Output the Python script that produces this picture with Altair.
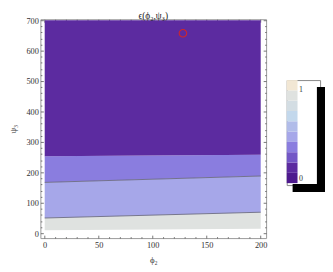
import altair as alt
import pandas as pd

# ---- data ----
x_edges = [0, 200]
lower_edge = [10, 15]
contour_1 = [50, 69]
contour_2 = [167, 188]
contour_3 = [253, 258]
upper_edge = [700, 700]
band_levels = [0.85, 0.45, 0.35, 0.15]
legend_colors = ["#4e1a8e", "#5c2ba0", "#7357c6", "#8a7ddf", "#a6a7e9",
                 "#b1bce9", "#c3d8ec", "#d3dde3", "#dfe2e0", "#f2e7d4"]
marker_x = [128]
marker_y = [657]

x_major = [0, 50, 100, 150, 200]
x_minor = [10, 20, 30, 40, 60, 70, 80, 90, 110, 120, 130, 140, 160, 170, 180, 190]
y_major = [0, 100, 200, 300, 400, 500, 600, 700]
y_minor = [20, 40, 60, 80, 120, 140, 160, 180, 220, 240, 260, 280, 320, 340, 360, 380,
           420, 440, 460, 480, 520, 540, 560, 580, 620, 640, 660, 680]

SERIF = "Liberation Serif"

bounds = [lower_edge, contour_1, contour_2, contour_3, upper_edge]
rows = []
for i, lvl in enumerate(band_levels):
    for j, xv in enumerate(x_edges):
        rows.append({"x": xv, "lo": bounds[i][j], "hi": bounds[i + 1][j],
                     "level": lvl, "band": i, "shadow": "s"})
bands = pd.DataFrame(rows)
line1 = pd.DataFrame({"x": x_edges, "y": contour_1})
line2 = pd.DataFrame({"x": x_edges, "y": contour_2})
marker = pd.DataFrame({"x": marker_x, "y": marker_y})

xs = alt.Scale(domain=[-4, 205], nice=False, zero=False)
ys = alt.Scale(domain=[-16, 703], nice=False, zero=False)


def axis(orient, values, size, labels=False, title=None, pad=2, tpad=4):
    return alt.Axis(orient=orient, values=values, tickSize=size, offset=-size,
                    domain=False, grid=False, tickColor="#555", tickWidth=0.8,
                    labels=labels, title=title, labelFont=SERIF, labelFontSize=8.5,
                    labelColor="#333", labelPadding=pad, titleFont=SERIF,
                    titleFontSize=9, titleFontWeight="normal", titleColor="#333",
                    titlePadding=tpad, labelFlush=False, labelOverlap=False)


main_legend = alt.Legend(
    type="gradient", orient="none", legendX=251, legendY=62, direction="vertical",
    title="M" * 18, titleFontSize=2, titleOpacity=0, titleOrient="bottom", titlePadding=0,
    titleFont=SERIF,
    gradientLength=105, gradientThickness=11, gradientStrokeWidth=0,
    labelFont=SERIF, labelFontSize=8, labelColor="#333", labelOffset=1.5,
    labelOverlap=False,
    labelExpr="datum.value < 0.05 ? '0' : datum.value > 0.85 ? '1' : ''",
    labelBaseline={"expr": "datum.value > 0.85 ? 'bottom' : datum.value < 0.05 ? 'bottom' : 'middle'"},
    padding=0, strokeColor="#888", fillColor="white")

# L-shaped drop shadow drawn beside/below the legend box
shadow_legend = alt.Legend(
    orient="none", legendX=257, legendY=69, title=None,
    symbolType="M0.5,-1H1V5.485H-1V5H0.5Z", symbolSize=1089,
    symbolFillColor="black", symbolStrokeColor="black", symbolStrokeWidth=0,
    symbolOpacity=1, labelExpr="''", labelOffset=0, labelFontSize=1,
    padding=0)

area = alt.Chart(bands).mark_area(opacity=1).encode(
    x=alt.X("x:Q", scale=xs, axis=axis("bottom", x_major, 3, labels=True, title="ϕ₂", pad=3, tpad=6)),
    y=alt.Y("lo:Q", scale=ys, axis=axis("left", y_major, 3, labels=True, title="ψ₃", pad=2, tpad=9)),
    y2="hi:Q",
    color=alt.Color("level:Q", scale=alt.Scale(type="quantize", domain=[0, 1], range=legend_colors),
                    legend=main_legend),
    opacity=alt.Opacity("shadow:N", scale=alt.Scale(range=[1]), legend=shadow_legend),
    detail="band:N",
)

l1 = alt.Chart(line1).mark_line(color="#6c6c80", strokeWidth=0.9).encode(
    x=alt.X("x:Q", scale=xs, axis=axis("bottom", x_minor, 1.5)),
    y=alt.Y("y:Q", scale=ys, axis=axis("left", y_minor, 1.5)),
)
l2 = alt.Chart(line2).mark_line(color="#6c6c80", strokeWidth=0.9).encode(
    x=alt.X("x:Q", scale=xs, axis=axis("top", x_major, 3)),
    y=alt.Y("y:Q", scale=ys, axis=axis("right", y_major, 3)),
)
pt = alt.Chart(marker).mark_point(shape="circle", filled=False, color="#d0262a",
                                  strokeWidth=1.1, size=60, opacity=1).encode(
    x=alt.X("x:Q", scale=xs, axis=axis("top", x_minor, 1.5)),
    y=alt.Y("y:Q", scale=ys, axis=axis("right", y_minor, 1.5)),
)

chart = alt.layer(area, l1, l2, pt).resolve_axis(x="independent", y="independent").properties(
    width=230, height=223, padding=0,
    title=alt.TitleParams("ϵ(ϕ₂,ψ₃)", font=SERIF, fontSize=9.5, fontWeight="normal",
                          color="#222", offset=-4),
).configure_view(stroke="#999", strokeWidth=1)

chart.save("out.html", embed_options={"renderer": "svg", "actions": False})
